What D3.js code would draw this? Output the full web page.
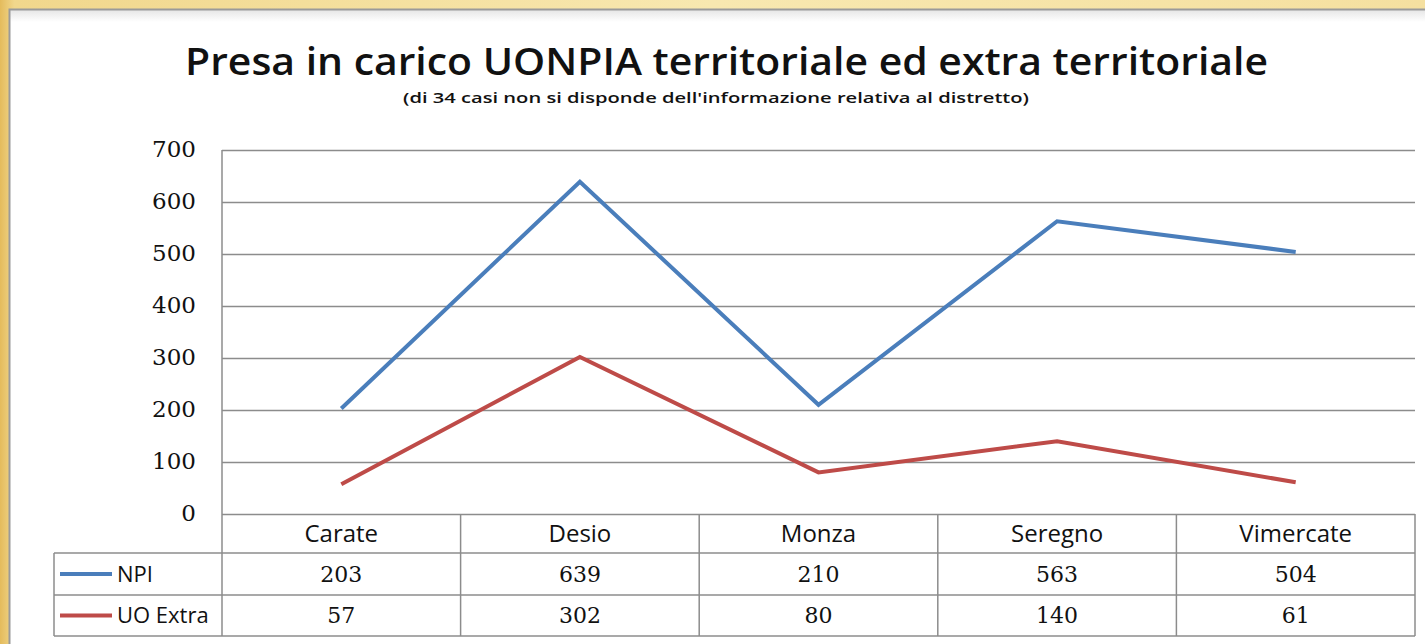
<!DOCTYPE html>
<html>
<head>
    <meta charset="utf-8" />
    <title>Presa in carico UONPIA</title>
    <script src="https://cdn.jsdelivr.net/npm/d3@7"></script>
    <style>
        body { margin: 0; background: #f5df9a; }
        svg { display: block; }
        .num { font-family: "DejaVu Serif", serif; fill: #111; }
        .lab { font-family: "Open Sans", sans-serif; fill: #111; }
    </style>
</head>
<body>
    <script>
        var categories = ["Carate", "Desio", "Monza", "Seregno", "Vimercate"];
        var seriesNames = ["NPI", "UO Extra"];
        var npi = [203, 639, 210, 563, 504];
        var uoExtra = [57, 302, 80, 140, 61];
        var yTicks = [0, 100, 200, 300, 400, 500, 600, 700];
        var colors = ["#4a7ebb", "#be4b48"];

        var width = 1425;
        var height = 644;
        var plotLeft = 222, plotRight = 1415, plotTop = 150, plotBottom = 514;
        var tableLeft = 54;
        var rowH = [514, 553, 595, 636];

        var series = [
            { name: seriesNames[0], values: npi, color: colors[0] },
            { name: seriesNames[1], values: uoExtra, color: colors[1] }
        ];

        var svg = d3.select("body").append("svg")
            .attr("width", width)
            .attr("height", height);

        // golden background
        var defs = svg.append("defs");
        var grad = defs.append("linearGradient").attr("id", "bg");
        grad.append("stop").attr("offset", "0").attr("stop-color", "#e4bb5c");
        grad.append("stop").attr("offset", "0.01").attr("stop-color", "#f1d78c");
        grad.append("stop").attr("offset", "0.5").attr("stop-color", "#f8e8b0");
        grad.append("stop").attr("offset", "1").attr("stop-color", "#f5e0a0");
        var shade = defs.append("linearGradient").attr("id", "shade")
            .attr("x1", 0).attr("y1", 0).attr("x2", 0).attr("y2", 1);
        shade.append("stop").attr("offset", "0").attr("stop-color", "#e6e6e6");
        shade.append("stop").attr("offset", "1").attr("stop-color", "#ffffff");

        svg.append("rect").attr("width", width).attr("height", height).attr("fill", "url(#bg)");

        // white panel
        svg.append("rect").attr("x", 9).attr("y", 9).attr("width", width - 9).attr("height", height - 9)
            .attr("fill", "#fff");
        svg.append("rect").attr("x", 10).attr("y", 10).attr("width", width - 10).attr("height", 12)
            .attr("fill", "url(#shade)");
        svg.append("path").attr("d", "M9.5," + height + "V9.5H" + width)
            .attr("fill", "none").attr("stroke", "#9a9a9a").attr("stroke-width", 2);

        // titles
        svg.append("text").attr("class", "lab")
            .attr("x", 185).attr("y", 75)
            .attr("textLength", 1083).attr("lengthAdjust", "spacingAndGlyphs")
            .style("font-size", "38px").style("font-weight", 600)
            .text("Presa in carico UONPIA territoriale ed extra territoriale");
        svg.append("text").attr("class", "lab")
            .attr("x", 403).attr("y", 103)
            .attr("textLength", 626).attr("lengthAdjust", "spacingAndGlyphs")
            .style("font-size", "15px").style("font-weight", 600)
            .text("(di 34 casi non si disponde dell'informazione relativa al distretto)");

        var x = d3.scaleBand().domain(categories).range([plotLeft, plotRight]);
        var y = d3.scaleLinear().domain([0, 700]).range([plotBottom, plotTop]);

        // y axis with gridlines
        var yAxis = svg.append("g")
            .attr("transform", "translate(" + plotLeft + ",0)")
            .call(d3.axisLeft(y).tickValues(yTicks).tickSize(-(plotRight - plotLeft)).tickPadding(26));
        yAxis.select(".domain").remove();
        yAxis.selectAll(".tick line").attr("stroke", "#8c8c8c").attr("stroke-width", 1.5);
        yAxis.selectAll(".tick text").attr("class", "num")
            .style("font-size", "23px").attr("dy", "0.3em");

        // table lines
        var grid = svg.append("g").attr("stroke", "#8c8c8c").attr("stroke-width", 1.5).attr("fill", "none");
        grid.append("line").attr("x1", plotLeft).attr("x2", plotLeft).attr("y1", plotTop).attr("y2", rowH[3]);
        grid.append("line").attr("x1", tableLeft).attr("x2", tableLeft).attr("y1", rowH[1]).attr("y2", rowH[3]);
        grid.selectAll(".hl").data(rowH.slice(1)).enter().append("line")
            .attr("x1", tableLeft).attr("x2", plotRight)
            .attr("y1", function (d) { return d; }).attr("y2", function (d) { return d; });
        grid.selectAll(".vl").data(categories).enter().append("line")
            .attr("x1", function (d) { return x(d) + x.bandwidth(); })
            .attr("x2", function (d) { return x(d) + x.bandwidth(); })
            .attr("y1", rowH[0]).attr("y2", rowH[3]);

        // category row
        svg.selectAll(".cat").data(categories).enter().append("text")
            .attr("class", "lab")
            .attr("x", function (d) { return x(d) + x.bandwidth() / 2; })
            .attr("y", (rowH[0] + rowH[1]) / 2)
            .attr("dy", "0.36em")
            .attr("text-anchor", "middle")
            .style("font-size", "24px")
            .text(function (d) { return d; });

        // series rows
        series.forEach(function (s, si) {
            var cy = (rowH[si + 1] + rowH[si + 2]) / 2;
            svg.append("line")
                .attr("x1", 60).attr("x2", 112).attr("y1", cy).attr("y2", cy)
                .attr("stroke", s.color).attr("stroke-width", 4);
            svg.append("text").attr("class", "lab")
                .attr("x", 117).attr("y", cy).attr("dy", "0.36em")
                .style("font-size", "22px")
                .text(s.name);
            svg.selectAll(".v" + si).data(s.values).enter().append("text")
                .attr("class", "num")
                .attr("x", function (d, i) { return x(categories[i]) + x.bandwidth() / 2; })
                .attr("y", cy).attr("dy", "0.36em")
                .attr("text-anchor", "middle")
                .style("font-size", "22px")
                .text(function (d) { return d; });
        });

        // lines
        var line = d3.line()
            .x(function (d, i) { return x(categories[i]) + x.bandwidth() / 2; })
            .y(function (d) { return y(d); });

        svg.selectAll(".series").data(series).enter().append("path")
            .attr("fill", "none")
            .attr("stroke", function (d) { return d.color; })
            .attr("stroke-width", 4)
            .attr("stroke-linejoin", "miter")
            .attr("d", function (d) { return line(d.values); });
    </script>
</body>
</html>
